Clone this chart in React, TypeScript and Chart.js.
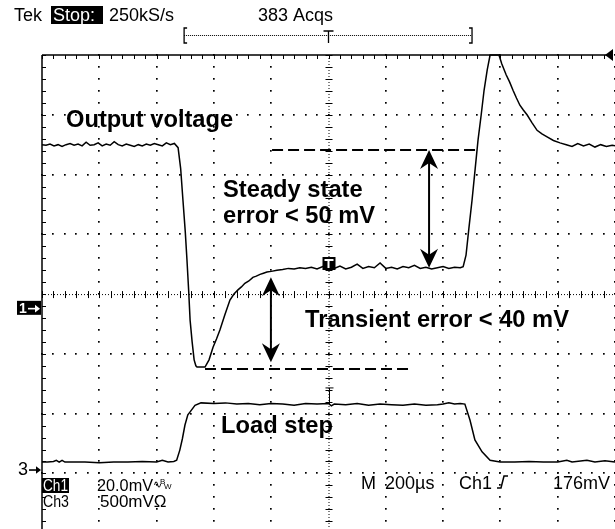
import React, { useEffect, useRef } from "react";
import { Chart, registerables } from "chart.js";
Chart.register(...registerables);

// Time axis in µs (200 µs/div, 10 div); vertical axis in screen divisions
const X_MIN = 0;
const X_MAX = 2000;
const X_DIV = 200;
const Y_MAX = 4;
const Y_MIN = -3.93;

// Output voltage (Ch1) trace
const OUT_T = [
  0, 14, 28, 42, 56, 70, 84, 98, 112, 126, 140, 154, 168, 182, 196, 210, 224, 238, 252, 266, 280, 294, 308,
  322, 336, 350, 364, 378, 392, 406, 420, 434, 448, 462,
  475, 484, 492, 500, 506, 512, 517, 524, 531, 537, 541, 555, 569,
  583, 597, 609, 621, 638, 656, 670, 684, 696, 708, 722, 736, 748, 761, 773, 785, 800, 820, 840, 860, 880, 900,
  920, 940, 960, 980, 1000, 1020, 1040, 1060, 1080, 1100, 1120, 1140, 1160, 1180, 1200, 1220, 1240, 1260, 1280,
  1300, 1320, 1340, 1360, 1380, 1400, 1420, 1440, 1460,
  1470, 1480, 1490, 1501, 1512, 1522, 1533, 1543, 1554, 1564, 1595,
  1605, 1620, 1632, 1644, 1656, 1668, 1680, 1693, 1710, 1728, 1745, 1763, 1785, 1808,
  1830, 1850, 1870, 1890, 1910, 1930, 1950, 1970, 1990, 2000,
];
const OUT_V = [
  2.5, 2.49, 2.51, 2.48, 2.5, 2.47, 2.5, 2.52, 2.49, 2.51, 2.48, 2.54, 2.49, 2.5, 2.53, 2.48, 2.51, 2.49, 2.55, 2.5, 2.48, 2.51, 2.49,
  2.47, 2.5, 2.48, 2.51, 2.49, 2.52, 2.5, 2.48, 2.53, 2.5, 2.52,
  2.45, 2.1, 1.57, 1.05, 0.57, 0.05, -0.44, -0.8, -1.1, -1.2, -1.22, -1.22, -1.22,
  -1.1, -0.89, -0.75, -0.6, -0.35, -0.1, 0.0, 0.07, 0.12, 0.18, 0.22, 0.28, 0.3, 0.33, 0.35, 0.37, 0.38, 0.4, 0.41, 0.43, 0.42, 0.44,
  0.43, 0.45, 0.42, 0.46, 0.44, 0.43, 0.47, 0.42, 0.45, 0.5, 0.43, 0.46, 0.44, 0.52, 0.43, 0.45, 0.42, 0.46, 0.44,
  0.48, 0.43, 0.45, 0.42, 0.44, 0.46, 0.43, 0.45, 0.44,
  0.46, 0.65, 1.1, 1.57, 2.1, 2.58, 3.0, 3.41, 3.75, 4.0, 4.0,
  3.85, 3.67, 3.55, 3.41, 3.28, 3.16, 3.08, 3.0, 2.87, 2.74, 2.68, 2.63, 2.57, 2.53,
  2.5, 2.47, 2.52, 2.48, 2.51, 2.46, 2.5, 2.47, 2.49, 2.48,
];

// Load step (Ch3) trace
const LOAD_T = [
  0, 20, 40, 50, 60, 70, 80, 100, 150, 200, 250, 300, 350, 400, 420, 440, 460,
  470, 481, 490, 499, 509, 517, 534, 555,
  600, 640, 680, 720, 760, 800, 840, 880, 920, 960, 1000, 1010, 1020, 1060, 1100, 1140, 1180, 1220, 1260,
  1300, 1340, 1380, 1400, 1420, 1440, 1460, 1476,
  1494, 1511, 1536, 1564, 1599,
  1650, 1700, 1750, 1800, 1832, 1850, 1902, 1930, 1965, 2000,
];
const LOAD_V = [
  -2.81, -2.81, -2.8, -2.78, -2.81, -2.78, -2.81, -2.81, -2.81, -2.82, -2.81, -2.81, -2.8, -2.81, -2.78, -2.81, -2.8,
  -2.78, -2.61, -2.42, -2.19, -2.02, -1.97, -1.86, -1.82,
  -1.83, -1.82, -1.84, -1.83, -1.85, -1.83, -1.84, -1.86, -1.83, -1.84, -1.83, -1.87, -1.84, -1.85, -1.83, -1.86, -1.84, -1.85, -1.86,
  -1.84, -1.86, -1.85, -1.84, -1.82, -1.84, -1.83, -1.84,
  -2.11, -2.44, -2.64, -2.78, -2.81,
  -2.81, -2.8, -2.81, -2.81, -2.78, -2.81, -2.78, -2.81, -2.79, -2.81,
];

// Annotation anchors (data units: µs, div)
const UPPER_DASH = { t0: 803, t1: 1525, v: 2.41 };
const LOWER_DASH = { t0: 569, t1: 1291, v: -1.255 };
const ARROW_STEADY = { t: 1351, v0: 2.41, v1: 0.44 };
const ARROW_TRANSIENT = { t: 799, v0: 0.28, v1: -1.14 };
const TRIG_MARK = { t: 1000, v: 0.52 };

const LABELS = [
  { text: "Output voltage", t: 84, v: 2.8 },
  { text: "Steady state", t: 632, v: 1.62 },
  { text: "error < 50 mV", t: 632, v: 1.19 },
  { text: "Transient error < 40 mV", t: 918, v: -0.55 },
  { text: "Load step", t: 625, v: -2.33 },
];

const scopePlugin = {
  id: "scope",
  beforeDatasetsDraw(chart: any) {
    const ctx = chart.ctx;
    const xs = chart.scales.x;
    const ys = chart.scales.y;
    const px = (t: number) => xs.getPixelForValue(t);
    const py = (v: number) => ys.getPixelForValue(v);
    const top = py(Y_MAX);
    const bottom = chart.height;
    ctx.save();
    ctx.fillStyle = "#000";
    const dot = (x: number, y: number) => ctx.fillRect(Math.round(x) - 1, Math.round(y) - 1, 1.7, 1.7);
    // vertical graticule lines
    for (let t = X_MIN + X_DIV; t <= X_MAX; t += X_DIV) {
      if (t === 1000) continue;
      for (let v = Y_MAX; v >= Y_MIN - 0.01; v -= 0.2) dot(px(t), py(v));
    }
    // horizontal graticule lines
    for (let v = Y_MAX - 1; v > Y_MIN; v -= 1) {
      if (Math.abs(v) < 0.01) continue;
      for (let t = X_MIN; t <= X_MAX; t += X_DIV / 5) dot(px(t), py(v));
    }
    // center lines
    ctx.strokeStyle = "#000";
    ctx.lineWidth = 1;
    ctx.setLineDash([1, 2]);
    ctx.beginPath();
    ctx.moveTo(px(1000) + 0.5, top);
    ctx.lineTo(px(1000) + 0.5, bottom);
    ctx.moveTo(px(X_MIN), py(0) + 0.5);
    ctx.lineTo(px(X_MAX), py(0) + 0.5);
    ctx.stroke();
    ctx.setLineDash([]);
    ctx.beginPath();
    for (let v = Y_MAX; v >= Y_MIN; v -= 0.2) {
      const y = Math.round(py(v)) + 0.5;
      ctx.moveTo(px(1000) - 3, y);
      ctx.lineTo(px(1000) + 4, y);
    }
    for (let t = X_MIN; t <= X_MAX; t += X_DIV / 5) {
      const x = Math.round(px(t)) + 0.5;
      ctx.moveTo(x, py(0) - 3);
      ctx.lineTo(x, py(0) + 4);
    }
    ctx.stroke();
    // borders
    ctx.lineWidth = 1.5;
    ctx.beginPath();
    ctx.moveTo(px(X_MIN), top);
    ctx.lineTo(px(X_MAX) - 8, top);
    ctx.moveTo(px(X_MIN), top);
    ctx.lineTo(px(X_MIN), bottom);
    ctx.stroke();
    ctx.lineWidth = 1;
    ctx.beginPath();
    for (let t = X_MIN; t <= X_MAX - 40; t += X_DIV / 5) {
      const x = Math.round(px(t)) + 0.5;
      ctx.moveTo(x, top);
      ctx.lineTo(x, top + 4);
    }
    for (let v = Y_MAX; v >= Y_MIN; v -= 0.2) {
      const y = Math.round(py(v)) + 0.5;
      ctx.moveTo(px(X_MIN), y);
      ctx.lineTo(px(X_MIN) + 4, y);
    }
    ctx.stroke();
    // right-top trigger level arrow
    ctx.beginPath();
    ctx.moveTo(px(X_MAX) - 10, top);
    ctx.lineTo(px(X_MAX) - 2, top - 6);
    ctx.lineTo(px(X_MAX) - 2, top + 6);
    ctx.closePath();
    ctx.fill();
    ctx.restore();
  },
  afterDatasetsDraw(chart: any) {
    const ctx = chart.ctx;
    const xs = chart.scales.x;
    const ys = chart.scales.y;
    const px = (t: number) => xs.getPixelForValue(t);
    const py = (v: number) => ys.getPixelForValue(v);
    ctx.save();
    ctx.fillStyle = "#000";
    ctx.strokeStyle = "#000";

    // dashed reference lines
    ctx.lineWidth = 2;
    ctx.setLineDash([11, 5]);
    for (const d of [UPPER_DASH, LOWER_DASH]) {
      ctx.beginPath();
      ctx.moveTo(px(d.t0), py(d.v));
      ctx.lineTo(px(d.t1), py(d.v));
      ctx.stroke();
    }
    ctx.setLineDash([]);

    // double arrows
    const head = (x: number, y: number, dir: number) => {
      ctx.beginPath();
      ctx.moveTo(x, y);
      ctx.lineTo(x - 9, y + dir * 19);
      ctx.lineTo(x, y + dir * 13);
      ctx.lineTo(x + 9, y + dir * 19);
      ctx.closePath();
      ctx.fill();
    };
    for (const a of [ARROW_STEADY, ARROW_TRANSIENT]) {
      const x = px(a.t);
      const y0 = py(a.v0);
      const y1 = py(a.v1);
      ctx.lineWidth = 2;
      ctx.beginPath();
      ctx.moveTo(x, y0 + 10);
      ctx.lineTo(x, y1 - 10);
      ctx.stroke();
      head(x, y0, 1);
      head(x, y1, -1);
    }

    // labels
    ctx.font = "bold 23.7px 'Liberation Sans', Arial, sans-serif";
    ctx.textBaseline = "alphabetic";
    ctx.textAlign = "left";
    for (const l of LABELS) ctx.fillText(l.text, px(l.t), py(l.v));

    // trigger point marker on trace
    {
      const x = px(TRIG_MARK.t);
      const y = py(TRIG_MARK.v);
      ctx.fillRect(x - 6, y - 6, 13, 13);
      ctx.fillStyle = "#fff";
      ctx.fillRect(x - 4, y - 4, 9, 2);
      ctx.fillRect(x - 1, y - 4, 2, 9);
      ctx.fillStyle = "#000";
    }
    // trigger position tick on centre line near Ch3
    {
      const x = Math.round(px(1000)) + 0.5;
      ctx.lineWidth = 1;
      ctx.beginPath();
      ctx.moveTo(x - 4, py(-1.57));
      ctx.lineTo(x + 4, py(-1.57));
      ctx.moveTo(x, py(-1.57));
      ctx.lineTo(x, py(-1.84));
      ctx.stroke();
    }

    // channel ground markers
    const sans = "'Liberation Sans', Arial, sans-serif";
    {
      const y = py(-0.23);
      ctx.fillRect(17, y - 7, 24, 14);
      ctx.fillStyle = "#fff";
      ctx.font = `bold 14px ${sans}`;
      ctx.textBaseline = "middle";
      ctx.fillText("1", 19, y + 1);
      ctx.fillRect(28, y, 9, 1.6);
      ctx.beginPath();
      ctx.moveTo(40, y + 0.8);
      ctx.lineTo(35, y - 3);
      ctx.lineTo(35, y + 4.6);
      ctx.fill();
      ctx.fillStyle = "#000";
      const y3 = py(-2.93);
      ctx.font = `18px ${sans}`;
      ctx.fillText("3", 18, y3 + 1);
      ctx.fillRect(29, y3, 8, 1.6);
      ctx.beginPath();
      ctx.moveTo(41, y3 + 0.8);
      ctx.lineTo(36, y3 - 3);
      ctx.lineTo(36, y3 + 4.6);
      ctx.fill();
    }

    // header
    ctx.textBaseline = "alphabetic";
    ctx.font = `18px ${sans}`;
    ctx.fillText("Tek", 14, 21, 32);
    ctx.fillRect(51, 6, 52, 18);
    ctx.fillStyle = "#fff";
    ctx.fillText("Stop:", 53, 21, 48);
    ctx.fillStyle = "#000";
    ctx.fillText("250kS/s", 109, 21, 76);
    ctx.fillText("383 Acqs", 258, 21, 86);
    // record bracket
    {
      const x0 = px(496);
      const x1 = px(1501);
      const xc = px(1000);
      ctx.lineWidth = 1;
      ctx.setLineDash([1, 1]);
      ctx.beginPath();
      ctx.moveTo(x0, 35.5);
      ctx.lineTo(x1, 35.5);
      ctx.stroke();
      ctx.setLineDash([]);
      ctx.lineWidth = 1.3;
      ctx.beginPath();
      ctx.moveTo(x0 + 3, 28);
      ctx.lineTo(x0, 28);
      ctx.lineTo(x0, 43);
      ctx.lineTo(x0 + 3, 43);
      ctx.moveTo(x1 - 3, 28);
      ctx.lineTo(x1, 28);
      ctx.lineTo(x1, 43);
      ctx.lineTo(x1 - 3, 43);
      ctx.moveTo(xc - 5, 31);
      ctx.lineTo(xc + 5, 31);
      ctx.moveTo(xc, 31);
      ctx.lineTo(xc, 43);
      ctx.stroke();
    }

    // bottom readouts
    ctx.font = `17px ${sans}`;
    ctx.fillRect(42, 478, 27, 15);
    ctx.fillStyle = "#fff";
    ctx.fillText("Ch1", 43, 491, 25);
    ctx.fillStyle = "#000";
    ctx.fillText("20.0mV", 97, 491, 56);
    ctx.font = `11px ${sans}`;
    ctx.fillText("∿", 153, 488);
    ctx.font = `8px ${sans}`;
    ctx.fillText("B", 160, 484);
    ctx.fillText("W", 164, 489);
    ctx.font = `17px ${sans}`;
    ctx.fillText("Ch3", 43, 507, 26);
    ctx.fillText("500mVΩ", 100, 507, 78);
    ctx.font = `18px ${sans}`;
    ctx.fillText("M", 361, 489);
    ctx.fillText("200µs", 385, 489, 52);
    ctx.fillText("Ch1", 459, 489, 33);
    ctx.fillText("176mV", 553, 489, 60);
    // rising-edge symbol
    ctx.lineWidth = 1.5;
    ctx.beginPath();
    ctx.moveTo(497, 488);
    ctx.lineTo(501, 488);
    ctx.lineTo(504, 476);
    ctx.lineTo(508, 476);
    ctx.stroke();
    ctx.restore();
  },
};

export default function App() {
  const ref = useRef<HTMLCanvasElement | null>(null);
  useEffect(() => {
    document.body.style.margin = "0";
    document.body.style.overflow = "hidden";
    const canvas = ref.current;
    if (!canvas) return;
    const chart = new Chart(canvas, {
      type: "line",
      data: {
        datasets: [
          {
            label: "Output voltage",
            data: OUT_T.map((t, i) => ({ x: t, y: OUT_V[i] })),
            borderColor: "#000",
            borderWidth: 1.5,
            pointRadius: 0,
            tension: 0,
            clip: false as any,
          },
          {
            label: "Load step",
            data: LOAD_T.map((t, i) => ({ x: t, y: LOAD_V[i] })),
            borderColor: "#000",
            borderWidth: 1.5,
            pointRadius: 0,
            tension: 0,
            clip: false as any,
          },
        ],
      },
      options: {
        responsive: false,
        devicePixelRatio: 1,
        animation: false,
        layout: { padding: { left: 42, top: 55, right: 0, bottom: 0 } },
        plugins: { legend: { display: false }, tooltip: { enabled: false } },
        scales: {
          x: { type: "linear", min: X_MIN, max: X_MAX, display: false },
          y: { type: "linear", min: Y_MIN, max: Y_MAX, display: false },
        },
      },
      plugins: [scopePlugin],
    });
    return () => chart.destroy();
  }, []);
  return (
    <div style={{ position: "absolute", left: 0, top: 0, width: 615, height: 529, background: "#fff" }}>
      <canvas ref={ref} width={615} height={529} style={{ display: "block" }} />
    </div>
  );
}
